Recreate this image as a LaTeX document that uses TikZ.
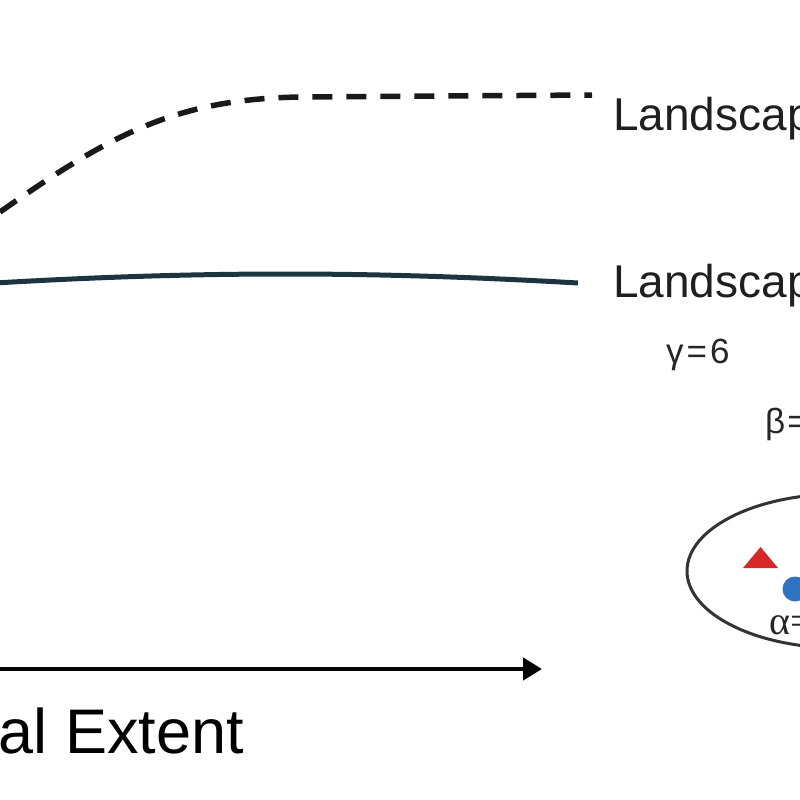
\documentclass[tikz,border=0pt]{standalone}
\usepackage{fontspec}
\setmainfont{Liberation Sans}
\newfontfamily\alphafont{Liberation Serif}
\usetikzlibrary{arrows.meta}
\definecolor{slate}{HTML}{1C3340}
\definecolor{ellgray}{HTML}{333333}
\definecolor{tri}{HTML}{D62828}
\definecolor{dot}{HTML}{2E72C0}
\tikzset{
  dashcurve/.style={line width=5.5pt, dash pattern=on 20pt off 14pt, black!90},
  solidcurve/.style={line width=5pt, slate},
  axisline/.style={line width=4.5pt, black, -{Triangle[length=19pt,width=22pt]}},
  biglbl/.style={font=\fontsize{46}{50}\selectfont, text=black!88, inner sep=0pt},
  parlbl/.style={font=\fontsize{35}{38}\selectfont, text=black!85, inner sep=0pt},
  axislbl/.style={font=\fontsize{63}{70}\selectfont, text=black, inner sep=0pt},
  ellstyle/.style={line width=3pt, ellgray}
}
\begin{document}
\begin{tikzpicture}[x=1pt,y=-1pt]
\useasboundingbox (0,0) rectangle (800,800);
\clip (0,0) rectangle (800,800);
% dashed landscape curve
\coordinate (d0) at (0,212);
\coordinate (d1) at (300,97);
\coordinate (d2) at (592,95);
\draw[dashcurve] (d0) .. controls (110,135) and (175,99) .. (d1) -- (d2);
% solid landscape line
\coordinate (s0) at (-5,283);
\coordinate (s1) at (578,283);
\draw[solidcurve] (s0) .. controls (200,271) and (370,271) .. (s1);
% labels
\node[biglbl, anchor=base west] (l1) at (613,130) {Landscape};
\node[biglbl, anchor=base west] (l2) at (613,297) {Landscape};
\node[parlbl, anchor=base west] (g) at (666,363) {γ\kern3pt=\kern3pt6};
\node[parlbl, anchor=base west] (b) at (765,433) {β\kern2pt=};
% ellipse with symbols
\draw[ellstyle] (840,571) ellipse [x radius=153, y radius=77];
\fill[tri] (743,568) -- (778,568) -- (760.5,547) -- cycle;
\fill[dot] (795,589) circle [radius=12.5];
\node[font=\fontsize{40}{44}\selectfont\alphafont, text=black!85, inner sep=0pt, anchor=base west] (a) at (769,634) {α=};
% axis
\coordinate (x0) at (-5,669);
\coordinate (x1) at (542,669);
\draw[axisline] (x0) -- (x1);
\node[axislbl, anchor=base east] (ax) at (244,753) {Spatial Extent};
\end{tikzpicture}
\end{document}
